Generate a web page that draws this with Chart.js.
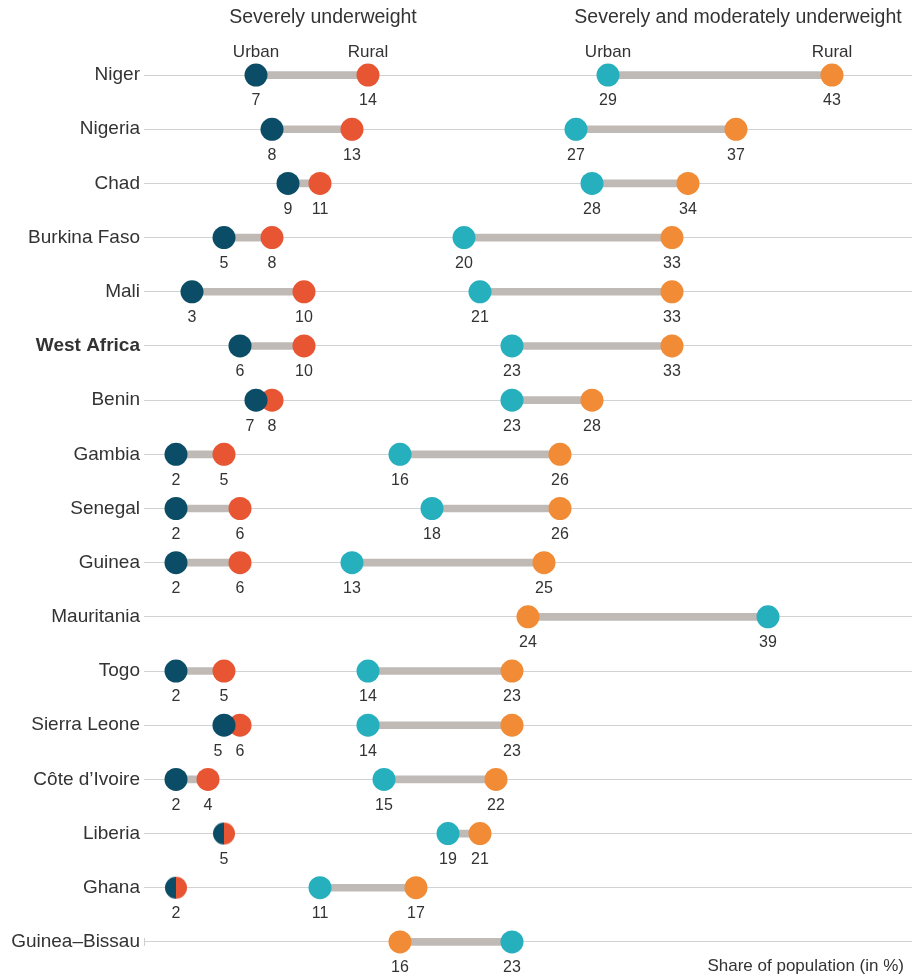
<!DOCTYPE html>
<html>
<head>
<meta charset="utf-8">
<script src="https://cdn.jsdelivr.net/npm/chart.js@4/dist/chart.umd.min.js"></script>
<style>
  html, body { margin: 0; padding: 0; background: #fff; }
  #wrap { position: relative; width: 919px; height: 976px; }
</style>
</head>
<body>
<div id="wrap"><canvas id="myChart"></canvas></div>
<script>
// data
const countries = ["Niger", "Nigeria", "Chad", "Burkina Faso", "Mali", "West Africa", "Benin", "Gambia",
  "Senegal", "Guinea", "Mauritania", "Togo", "Sierra Leone", "Côte d’Ivoire", "Liberia", "Ghana", "Guinea–Bissau"];
const severeUrban = [7, 8, 9, 5, 3, 6, 7, 2, 2, 2, null, 2, 5, 2, 5, 2, null];
const severeRural = [14, 13, 11, 8, 10, 10, 8, 5, 6, 6, null, 5, 6, 4, 5, 2, null];
const modUrban = [29, 27, 28, 20, 21, 23, 23, 16, 18, 13, 39, 14, 14, 15, 19, 11, 23];
const modRural = [43, 37, 34, 33, 33, 33, 28, 26, 26, 25, 24, 23, 23, 22, 21, 17, 16];

const FONT = "'Liberation Sans', Arial, sans-serif";
const TEXT = "#333333";

// half circles for rows where urban == rural
const halfDot = (color, side) => {
  const c = document.createElement("canvas");
  c.width = 24; c.height = 24;
  const g = c.getContext("2d");
  g.fillStyle = color;
  g.beginPath();
  g.moveTo(12, 12);
  if (side === "left") g.arc(12, 12, 11, Math.PI / 2, Math.PI * 1.5);
  else g.arc(12, 12, 11, -Math.PI / 2, Math.PI / 2);
  g.closePath();
  g.fill();
  return c;
};
const leftNavy = halfDot("#0b4c66", "left");
const rightRed = halfDot("#e75533", "right");

const pair = (a, b) => a.map((v, i) => (v == null || b[i] == null ? null : [v, b[i]]));

const dotSet = (label, values, color, other, half) => ({
  type: "line",
  label,
  data: values,
  showLine: false,
  backgroundColor: color,
  borderWidth: 0,
  pointRadius: 11.5,
  pointHoverRadius: 11.5,
  pointStyle: (c) => (half && values[c.dataIndex] != null && values[c.dataIndex] === other[c.dataIndex] ? half : "circle"),
  order: 1,
});

const labelsPlugin = {
  id: "dotLabels",
  afterDatasetsDraw(chart) {
    const { ctx } = chart;
    const x = chart.scales.x;
    const y = chart.scales.y;
    ctx.save();
    ctx.fillStyle = TEXT;
    ctx.textAlign = "center";
    ctx.textBaseline = "middle";
    ctx.font = "16px " + FONT;
    const groups = [[severeUrban, severeRural], [modUrban, modRural]];
    countries.forEach((name, i) => {
      const py = y.getPixelForValue(i) + 26;
      groups.forEach(([u, r]) => {
        if (u[i] == null) return;
        if (u[i] === r[i]) {
          ctx.fillText(String(u[i]), x.getPixelForValue(u[i]), py);
          return;
        }
        const lo = Math.min(u[i], r[i]);
        const hi = Math.max(u[i], r[i]);
        const shift = hi - lo <= 1 ? 6 : 0;
        ctx.fillText(String(lo), x.getPixelForValue(lo) - shift, py);
        ctx.fillText(String(hi), x.getPixelForValue(hi), py);
      });
    });

    // column headers
    ctx.font = "19.5px " + FONT;
    ctx.fillText("Severely underweight", 323, 18);
    ctx.fillText("Severely and moderately underweight", 738, 18);
    ctx.font = "17px " + FONT;
    const top = y.getPixelForValue(0) - 22.5;
    ctx.fillText("Urban", x.getPixelForValue(severeUrban[0]), top);
    ctx.fillText("Rural", x.getPixelForValue(severeRural[0]), top);
    ctx.fillText("Urban", x.getPixelForValue(modUrban[0]), top);
    ctx.fillText("Rural", x.getPixelForValue(modRural[0]), top);

    // footnote
    ctx.font = "17px " + FONT;
    ctx.textAlign = "right";
    ctx.fillText("Share of population (in %)", 904, 966);

    // small tick at the foot of the axis
    const last = y.getPixelForValue(countries.length - 1);
    ctx.strokeStyle = "#cfcfcf";
    ctx.lineWidth = 1;
    ctx.beginPath();
    ctx.moveTo(chart.chartArea.left + 0.5, last - 4);
    ctx.lineTo(chart.chartArea.left + 0.5, last + 4);
    ctx.stroke();
    ctx.restore();
  },
};

new Chart(document.getElementById("myChart"), {
  data: {
    labels: countries,
    datasets: [
      dotSet("Severe urban", severeUrban, "#0b4c66", severeRural, leftNavy),
      dotSet("Severe rural", severeRural, "#e75533", severeUrban, rightRed),
      dotSet("Urban", modUrban, "#26afbd", modRural, null),
      dotSet("Rural", modRural, "#f18b35", modUrban, null),
      {
        type: "bar",
        data: pair(severeUrban, severeRural),
        backgroundColor: "#bfbab6",
        barThickness: 7,
        grouped: false,
        borderSkipped: false,
        order: 10,
      },
      {
        type: "bar",
        data: pair(modUrban, modRural),
        backgroundColor: "#bfbab6",
        barThickness: 7,
        grouped: false,
        borderSkipped: false,
        order: 10,
      },
    ],
  },
  options: {
    indexAxis: "y",
    responsive: true,
    maintainAspectRatio: false,
    animation: false,
    layout: { autoPadding: false, padding: { top: 48, bottom: 7, right: 7, left: 0 } },
    plugins: { legend: { display: false }, tooltip: { enabled: false } },
    scales: {
      x: {
        type: "linear",
        min: 0,
        max: 48,
        display: false,
      },
      y: {
        type: "category",
        offset: true,
        border: { display: false },
        grid: { offset: false, color: "#d2d2d2", lineWidth: 1, drawTicks: false },
        ticks: {
          padding: 4,
          color: TEXT,
          font: (c) => ({ family: FONT, size: 19, weight: c.index === 5 ? "bold" : "normal" }),
        },
        afterFit(scale) {
          scale.width = 144;
          scale.paddingTop = 0;
          scale.paddingBottom = 0;
        },
      },
    },
  },
  plugins: [labelsPlugin],
});
</script>
</body>
</html>
